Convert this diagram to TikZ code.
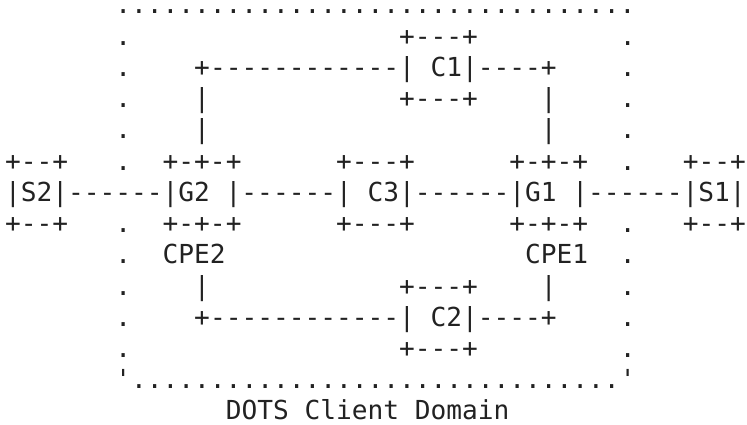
\documentclass[tikz,border=0pt]{standalone}
\usepackage{fontspec}
\setmonofont{DejaVu Sans Mono}
\definecolor{asciiink}{HTML}{222222}

\begin{document}
\begin{tikzpicture}[x=11.82pt,y=-23.42pt,
  asc/.style={anchor=base west,inner sep=0pt,outer sep=0pt,text=asciiink,
    font=\ttfamily\fontsize{19.63pt}{23.42pt}\selectfont}]
%set diagram frame: 47 columns, 14 rows, one unit per character cell
\fill[white] (-0.325,0.552) rectangle (47.073,14.13);
\useasboundingbox (-0.325,0.552) rectangle (47.073,14.13);

%Dotted border of the client domain
\node[asc] (domtop) at (7,1) {.................................};
\foreach \r in {2,3,4,5,6,8,9,10,11,12} {
  \node[asc] (domw\r) at (7,\r) {.};
  \node[asc] (dome\r) at (39,\r) {.};
}
\node[asc] (domsw) at (7,13) {'};
\node[asc] (dombot) at (8,13) {...............................};
\node[asc] (domse) at (39,13) {'};
\node[asc] (domlabel) at (14,14) {DOTS Client Domain};

%Box tops and bottoms on the main row
\foreach \r in {6,8} {
  \node[asc] (s2edge\r) at (0,\r) {+--+};
  \node[asc] (g2edge\r) at (10,\r) {+-+-+};
  \node[asc] (c3edge\r) at (21,\r) {+---+};
  \node[asc] (g1edge\r) at (32,\r) {+-+-+};
  \node[asc] (s1edge\r) at (43,\r) {+--+};
}

%Main row: S2 - G2 - C3 - G1 - S1
\node[asc] (s2) at (0,7) {|S2|};
\node[asc] (s2g2) at (s2.base east) {------};
\node[asc] (g2) at (s2g2.base east) {|G2 |};
\node[asc] (g2c3) at (g2.base east) {------};
\node[asc] (c3) at (g2c3.base east) {| C3|};
\node[asc] (c3g1) at (c3.base east) {------};
\node[asc] (g1) at (c3g1.base east) {|G1 |};
\node[asc] (g1s1) at (g1.base east) {------};
\node[asc] (s1) at (g1s1.base east) {|S1|};

% Text Node
\node[asc] (cpe2) at (10,9) {CPE2};
% Text Node
\node[asc] (cpe1) at (33,9) {CPE1};

%Upper path through C1
\node[asc] (c1top) at (25,2) {+---+};
\node[asc] (c1w) at (12,3) {+------------};
\node[asc] (c1) at (c1w.base east) {| C1|};
\node[asc] (c1e) at (c1.base east) {----+};
\node[asc] (c1bot) at (25,4) {+---+};
\foreach \r in {4,5} {
  \node[asc] (g2up\r) at (12,\r) {|};
  \node[asc] (g1up\r) at (34,\r) {|};
}

%Lower path through C2
\node[asc] (c2top) at (25,10) {+---+};
\node[asc] (g2down) at (12,10) {|};
\node[asc] (g1down) at (34,10) {|};
\node[asc] (c2w) at (12,11) {+------------};
\node[asc] (c2) at (c2w.base east) {| C2|};
\node[asc] (c2e) at (c2.base east) {----+};
\node[asc] (c2bot) at (25,12) {+---+};

\end{tikzpicture}
\end{document}
